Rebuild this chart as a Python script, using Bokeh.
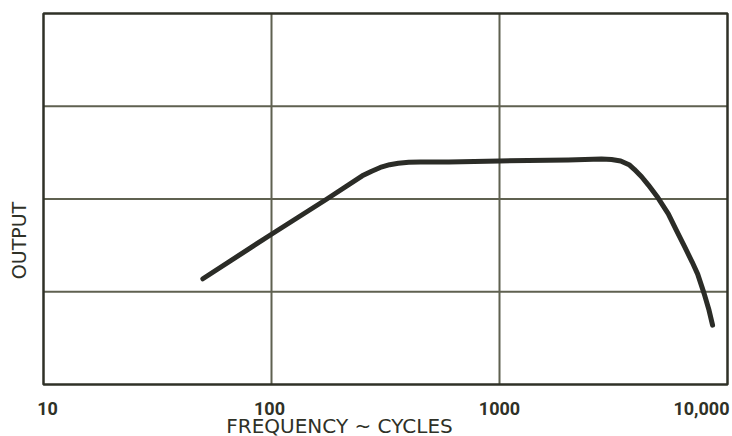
import math
from bokeh.plotting import figure
from bokeh.models import Label, Range1d
from bokeh.embed import file_html
from bokeh.resources import INLINE

# Data
freq = [50, 100, 175, 250, 275, 300, 330, 360, 400, 450, 600, 1000, 2000,
        2800, 3100, 3400, 3700, 3900, 4200, 4500, 4900, 5500, 6000, 6500,
        7000, 7400, 7900, 8300, 8600]
output = [1.14, 1.62, 2.00, 2.25, 2.30, 2.34, 2.37, 2.385, 2.395, 2.40,
          2.40, 2.41, 2.42, 2.43, 2.425, 2.41, 2.37, 2.32, 2.24, 2.15, 2.03,
          1.84, 1.65, 1.48, 1.32, 1.19, 0.98, 0.80, 0.64]

x_ticks = [10, 100, 1000, 10000]
x_tick_labels = ["10", "100", "1000", "10,000"]
x_grid_ticks = [100, 1000]
y_grid_ticks = [1, 2, 3]
x_bounds = [10, 10000]
y_bounds = [0, 4]
x_title = "FREQUENCY ~ CYCLES"
y_title = "OUTPUT"

ink = "#2f3127"
grid_col = "#5f6150"

# canvas geometry (pixels) -> data ranges so the chart area sits like the reference
W, H = 732, 436
left_px, right_px, top_px, bottom_px = 43, 727, 13, 384
ppd = (right_px - left_px) / (math.log10(x_bounds[1]) - math.log10(x_bounds[0]))
ppu = (bottom_px - top_px) / (y_bounds[1] - y_bounds[0])
x_start = 10 ** (math.log10(x_bounds[0]) - left_px / ppd)
x_end = 10 ** (math.log10(x_bounds[1]) + (W - right_px) / ppd)
y_end = y_bounds[1] + top_px / ppu
y_start = y_bounds[0] - (H - bottom_px) / ppu

p = figure(width=W, height=H, x_axis_type="log",
           x_axis_location=None, y_axis_location=None,
           x_range=Range1d(x_start, x_end), y_range=Range1d(y_start, y_end),
           output_backend="svg", toolbar_location=None,
           min_border=0, min_border_left=0, min_border_right=0,
           min_border_top=0, min_border_bottom=0)
p.outline_line_color = None
p.background_fill_color = "white"
p.border_fill_color = "white"
for g in p.grid:
    g.visible = False

# inner grid lines
p.segment(x0=x_grid_ticks, x1=x_grid_ticks,
          y0=[y_bounds[0]] * len(x_grid_ticks), y1=[y_bounds[1]] * len(x_grid_ticks),
          line_color=grid_col, line_width=2)
p.segment(x0=[x_bounds[0]] * len(y_grid_ticks), x1=[x_bounds[1]] * len(y_grid_ticks),
          y0=y_grid_ticks, y1=y_grid_ticks, line_color=grid_col, line_width=2)
# frame
p.quad(left=x_bounds[0], right=x_bounds[1], bottom=y_bounds[0], top=y_bounds[1],
       fill_color=None, line_color=ink, line_width=2.5)

p.line(freq, output, line_color="#2b2c27", line_width=5,
       line_cap="round", line_join="round")

tick_y = y_bounds[0] - 24 / ppu
font = "DejaVu Sans"
offsets = {"10": (4, "center"), "100": (-2, "center"),
           "1000": (0, "center"), "10,000": (2, "right")}
for t, lab in zip(x_ticks, x_tick_labels):
    dx, align = offsets[lab]
    p.add_layout(Label(x=t, y=tick_y, x_offset=dx, text=lab, text_align=align,
                       text_baseline="alphabetic", text_font="Roboto",
                       text_font_style="bold", text_font_size="18px", text_color=ink))

p.add_layout(Label(x=10 ** (math.log10(x_bounds[0]) + (339 - left_px) / ppd),
                   y=y_bounds[0] - 41 / ppu,
                   text=x_title, text_align="center", text_baseline="alphabetic",
                   text_font=font, text_font_size="20px", text_color=ink))
p.add_layout(Label(x=10 ** (math.log10(x_bounds[0]) - 25 / ppd),
                   y=y_bounds[0] + 144 / ppu,
                   text=y_title, angle=math.pi / 2, text_align="center",
                   text_baseline="middle", text_font=font,
                   text_font_size="19px", text_color=ink))

open("out.html", "w").write(file_html(p, INLINE))
